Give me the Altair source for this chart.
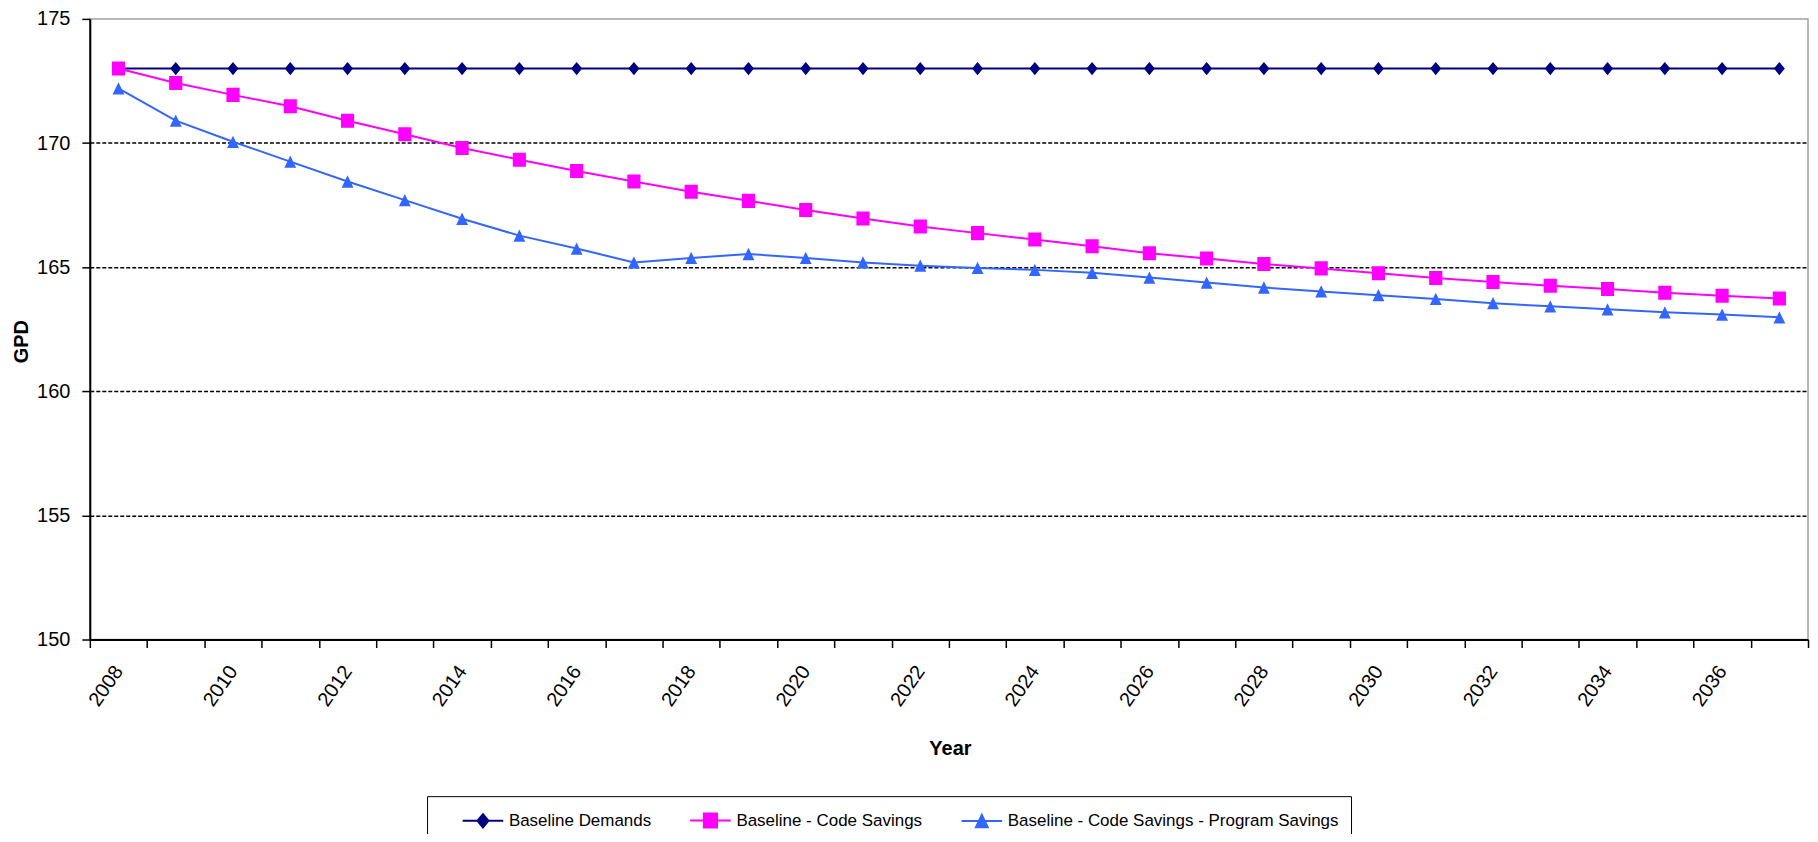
import altair as alt
import pandas as pd

years = list(range(2008, 2038))
baseline_demands = [173.0, 173.0, 173.0, 173.0, 173.0, 173.0, 173.0, 173.0, 173.0, 173.0,
                    173.0, 173.0, 173.0, 173.0, 173.0, 173.0, 173.0, 173.0, 173.0, 173.0,
                    173.0, 173.0, 173.0, 173.0, 173.0, 173.0, 173.0, 173.0, 173.0, 173.0]
code_savings = [173.0, 172.42, 171.94, 171.48, 170.9, 170.35, 169.8, 169.33, 168.87, 168.45,
                168.04, 167.67, 167.3, 166.96, 166.64, 166.37, 166.11, 165.84, 165.56, 165.35,
                165.13, 164.95, 164.75, 164.56, 164.4, 164.25, 164.12, 163.97, 163.85, 163.74]
program_savings = [172.2, 170.9, 170.05, 169.25, 168.45, 167.7, 166.95, 166.27, 165.75, 165.19,
                   165.37, 165.53, 165.37, 165.19, 165.06, 164.97, 164.89, 164.77, 164.58, 164.38,
                   164.18, 164.02, 163.87, 163.72, 163.55, 163.42, 163.3, 163.18, 163.09, 162.98]

series_names = ["Baseline Demands", "Baseline - Code Savings",
                "Baseline - Code Savings - Program Savings"]
series_colors = ["#000080", "#FF00FF", "#3366FF"]
y_ticks = [150, 155, 160, 165, 170, 175]

rows = []
for name, vals in zip(series_names, [baseline_demands, code_savings, program_savings]):
    for yr, v in zip(years, vals):
        rows.append({"Year": yr, "GPD": v, "Series": name})
df = pd.DataFrame(rows)

LINE = "M-1.85,0L1.85,0"
shape_paths = [
    LINE + "M0,-0.6L0.5,0L0,0.6L-0.5,0Z",
    LINE + "M-0.6,-0.64L0.6,-0.64L0.6,0.64L-0.6,0.64Z",
    LINE + "M0,-0.56L0.54,0.56L-0.54,0.56Z",
]

FONT = "Liberation Sans"

color_scale = alt.Scale(domain=series_names, range=series_colors)

x_enc = alt.X(
    "Year:O",
    title="Year",
    bandPosition=0.5,
    scale=alt.Scale(type="band", paddingInner=0, paddingOuter=0),
    axis=alt.Axis(
        tickBand="extent",
        labelAngle=-55,
        labelExpr="datum.value % 2 == 0 ? datum.label : ''",
        labelPadding=20,
        grid=False,
        titleX=862,
        titleY=109,
        titleAlign="center",
        titleBaseline="middle",
    ),
)
y_enc = alt.Y(
    "GPD:Q",
    title="GPD",
    scale=alt.Scale(domain=[150, 175], nice=False, zero=False),
    axis=alt.Axis(
        values=y_ticks,
        grid=True,
        gridColor="black",
        gridDash=[4, 2],
        gridWidth=1.5,
        gridOpacity={"condition": {"test": "datum.value >= 175 || datum.value <= 150", "value": 0}, "value": 1},
        labelPadding=12,
        titleX=-68,
        titleY=323,
        titleAngle=270,
        titleAlign="center",
        titleBaseline="middle",
    ),
)

legend_def = alt.Legend(
    orient="none",
    legendX=338,
    legendY=779,
    direction="horizontal",
    title=None,
    strokeColor="black",
    fillColor="white",
    padding=12,
    symbolOffset=32,
    symbolSize=484,
    symbolStrokeWidth=2,
    labelFont=FONT,
    labelFontSize=17,
    labelColor="black",
    labelLimit=600,
    labelOffset=14,
    columnPadding=15,
)

base = alt.Chart(df)

lines = base.mark_line(strokeWidth=2).encode(
    x=x_enc,
    y=y_enc,
    color=alt.Color("Series:N", scale=color_scale, sort=series_names, legend=None),
)

points = base.mark_point(filled=True, size=484, opacity=1).encode(
    x=x_enc,
    y=y_enc,
    color=alt.Color("Series:N", scale=color_scale, sort=series_names, legend=legend_def),
    stroke=alt.Stroke("Series:N", scale=color_scale, sort=series_names, legend=legend_def),
    shape=alt.Shape("Series:N", scale=alt.Scale(domain=series_names, range=shape_paths),
                    sort=series_names, legend=legend_def),
    strokeWidth=alt.value(0),
)

chart = alt.layer(lines, points).resolve_legend(
    color="independent", stroke="independent", shape="independent"
).properties(
    width=1722,
    height=622,
    padding={"left": 82, "top": 10, "right": 2, "bottom": 194},
    autosize=alt.AutoSizeParams(type="none"),
    background="white",
).configure_view(
    stroke="#a0a0a0",
    strokeWidth=1.5,
).configure_axis(
    domainColor="black",
    domainWidth=2,
    tickColor="black",
    tickWidth=1.5,
    tickSize=8,
    labelColor="black",
    labelFont=FONT,
    labelFontSize=20,
    titleFont=FONT,
    titleFontSize=20,
    titleFontWeight="bold",
    titleColor="black",
)

chart.save("out.html", embed_options={"renderer": "svg", "actions": False})
